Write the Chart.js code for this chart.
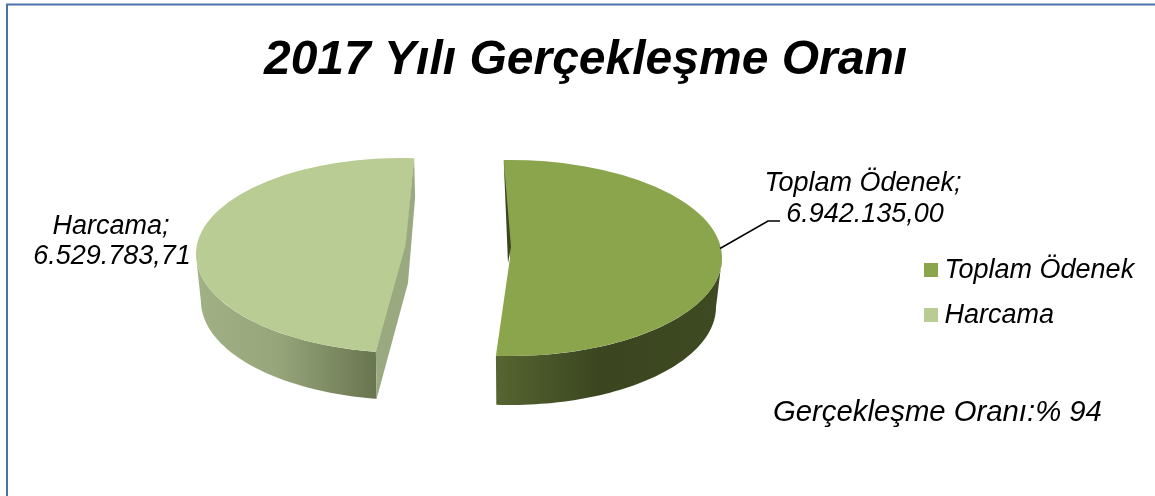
<!DOCTYPE html>
<html><head><meta charset="utf-8">
<style>html,body{margin:0;padding:0;background:#fff;overflow:hidden}#w{position:relative;width:1155px;height:496px}</style>
<script src="https://cdn.jsdelivr.net/npm/chart.js@4"></script>
</head><body><div id="w"><canvas id="c" width="1155" height="496"></canvas></div>
<script>
const categories = ['Toplam Ödenek', 'Harcama'];
const values = [6942135.00, 6529783.71];
const valueLabels = ['6.942.135,00', '6.529.783,71'];
const chartTitle = '2017 Yılı Gerçekleşme Oranı';
const note = 'Gerçekleşme Oranı:% 94';
const colors = ['#8aa54c', '#b9cc94'];

const FONT = '"Liberation Sans", Arial, sans-serif';
// per-slice projection of the flat pie into the 3D look
const proj = [
  {cx:510, cy:258, rx:212, ry:98, rot:0, shear:0, depth:49, brx:206},
  {cx:405, cy:255.5, rx:209, ry:97.5, rot:5*Math.PI/180, shear:0.03, depth:47, brx:204}
];
function rim(p, a, lower){
  const t = a + p.rot, dy = p.ry*Math.sin(t);
  return lower ? [p.cx + p.brx*Math.cos(t) + p.shear*dy, p.cy + p.depth + dy]
               : [p.cx + p.rx*Math.cos(t) + p.shear*dy, p.cy + dy];
}
function wall(ctx, p, a0, a1, fill){
  const n = 60; ctx.beginPath();
  for(let i=0;i<=n;i++){const q=rim(p,a0+(a1-a0)*i/n,false); i?ctx.lineTo(q[0],q[1]):ctx.moveTo(q[0],q[1]);}
  for(let i=n;i>=0;i--){const q=rim(p,a0+(a1-a0)*i/n,true); ctx.lineTo(q[0],q[1]);}
  ctx.closePath(); ctx.fillStyle=fill; ctx.fill();
}
function poly(ctx, pts, fill){
  ctx.beginPath(); pts.forEach((q,i)=> i?ctx.lineTo(q[0],q[1]):ctx.moveTo(q[0],q[1])); ctx.closePath();
  ctx.fillStyle=fill; ctx.fill();
}
const pie3d = {
  id:'pie3d',
  afterLayout(chart){
    const lg = chart.legend;
    const pad = chart.options.plugins.legend.labels.padding;
    lg.left = 931 - pad; lg.top = 256.5 - pad; lg.right = 1155; lg.bottom = 480;
    const t = chart.titleBlock;
    t.left += 16; t.top = 32; t.bottom = 90;
  },
  beforeDatasetDraw(chart, args){
    const ctx = chart.ctx, arcs = chart.getDatasetMeta(args.index).data;
    arcs.forEach((el,i)=>{
      const p = proj[i];
      const a0 = Math.max(el.startAngle+p.rot, 0)-p.rot, a1 = Math.min(el.endAngle+p.rot, Math.PI)-p.rot;
      if(i===0){
        const x0=p.cx-14;
        const r = ctx.createLinearGradient(x0,0,x0+226,0);
        r.addColorStop(0,'#566531'); r.addColorStop(.45,'#3b4620'); r.addColorStop(1,'#3e4a22');
        wall(ctx,p,a0,a1,r);
      } else {
        const r = ctx.createLinearGradient(198,0,376,0);
        r.addColorStop(0,'#a2b085'); r.addColorStop(.45,'#97a57b'); r.addColorStop(1,'#68754f');
        wall(ctx,p,a0,a1,r);
      }
      ctx.save();
      ctx.translate(p.cx,p.cy);
      ctx.transform(1,0,p.shear,1,0,0);
      ctx.scale(p.rx/el.outerRadius, p.ry/el.outerRadius);
      ctx.rotate(p.rot);
      ctx.translate(-el.x,-el.y);
      el.draw(ctx, chart.chartArea);
      ctx.restore();
      // inner cut walls
      const s0 = rim(p, el.startAngle,false), e0 = rim(p, el.endAngle,false);
      if(i===0){
        poly(ctx,[s0,[p.cx+1,p.cy-11],[p.cx-2,p.cy+5]],'#3b4620');
      } else {
        const s1 = rim(p, el.startAngle,true);
        poly(ctx,[e0,[e0[0]+1,e0[1]+39],[p.cx+3,p.cy+27.5],[s1[0],s1[1]],s0,[p.cx+0.5,p.cy-10]],'#9aa97f');
      }
    });
    return false;
  },
  afterDatasetsDraw(chart){
    const ctx = chart.ctx;
    ctx.save();
    ctx.fillStyle='#000'; ctx.textBaseline='middle'; ctx.textAlign='center';
    ctx.font = 'italic 27px '+FONT;
    ctx.fillText(categories[0]+';', 863, 183);
    ctx.fillText(valueLabels[0], 865, 214);
    ctx.fillText(categories[1]+';', 111, 226);
    ctx.fillText(valueLabels[1], 112, 256);
    ctx.strokeStyle='#000'; ctx.lineWidth=1.5; ctx.beginPath();
    ctx.moveTo(720,248.5); ctx.lineTo(768,221); ctx.lineTo(780,221); ctx.stroke();
    ctx.textAlign='left';
    ctx.font = 'italic 29.3px '+FONT;
    ctx.fillText(note, 773, 413);
    ctx.restore();
  }
};
const frame = {
  id:'frame',
  beforeDraw(chart){
    const ctx = chart.ctx; ctx.save();
    ctx.fillStyle='#fff'; ctx.fillRect(0,0,1155,496);
    ctx.strokeStyle='#4a74a8'; ctx.lineWidth=2;
    ctx.strokeRect(7,4.5,1153,500);
    ctx.restore();
  }
};
new Chart(document.getElementById('c'),{
  type:'pie',
  data:{labels:categories,datasets:[{data:values,backgroundColor:colors,borderWidth:0,hoverOffset:0}]},
  plugins:[frame,pie3d],
  options:{
    responsive:false,animation:false,rotation:-1.7,
    layout:{padding:0},
    plugins:{
      tooltip:{enabled:false},
      title:{display:true,text:chartTitle,color:'#000',align:'center',padding:0,
        font:{family:FONT,size:48,weight:'bold',style:'italic',lineHeight:1.2}},
      legend:{display:true,position:'right',align:'start',
        labels:{usePointStyle:true,pointStyle:'rect',boxWidth:0.01,boxHeight:14,padding:18,color:'#000',
          font:{family:FONT,size:27,style:'italic'}}}
    }
  }
});
</script></body></html>
